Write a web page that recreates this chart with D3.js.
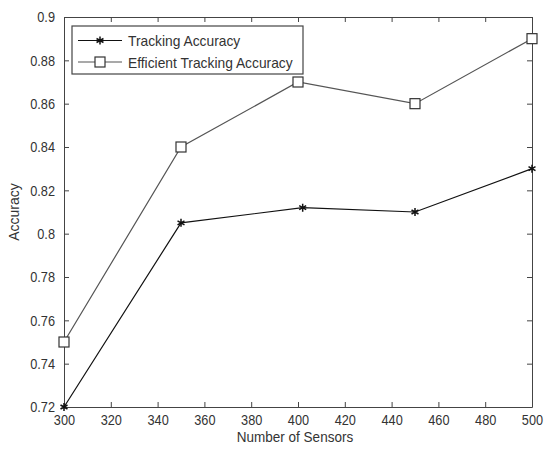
<!DOCTYPE html>
<meta charset="utf-8">
<style>
body { margin: 0; background: #fff; }
text { font-family: "Liberation Sans", Arial, sans-serif; fill: #333; }
.line { fill: none; stroke-width: 1.2px; }
</style>
<svg width="548" height="449"></svg>
<script src="https://d3js.org/d3.v7.min.js"></script>
<script>

var sensorsA = [300, 350, 402, 450, 500];
var tracking = [0.72, 0.805, 0.812, 0.81, 0.83];
var sensorsB = [300, 350, 400, 450, 500];
var efficient = [0.75, 0.84, 0.87, 0.86, 0.89];
var xTicks = [300, 320, 340, 360, 380, 400, 420, 440, 460, 480, 500];
var yTicks = [0.72, 0.74, 0.76, 0.78, 0.8, 0.82, 0.84, 0.86, 0.88, 0.9];
var legendNames = ["Tracking Accuracy", "Efficient Tracking Accuracy"];

var svg = d3.select("svg");
var plotL = 64, plotR = 532, plotT = 17, plotB = 407;

var x = d3.scaleLinear().domain([300, 500]).range([plotL, plotR]);
var y = d3.scaleLinear().domain([0.72, 0.9]).range([plotB, plotT]);

// the original text looks squeezed sideways, so narrow it a bit
function squeeze(sel, k) {
  sel.each(function() {
    var w = this.getComputedTextLength();
    d3.select(this).attr("textLength", w * k).attr("lengthAdjust", "spacingAndGlyphs");
  });
}

function axisStyle(g) {
  g.selectAll("path").attr("stroke", "#444");
  g.selectAll("line").attr("stroke", "#444");
  g.selectAll("text").style("font-size", "15px").attr("fill", "#333");
}
svg.append("g").attr("class", "xa").attr("transform", "translate(0," + plotB + ")")
  .call(d3.axisBottom(x).tickValues(xTicks).tickFormat(d3.format("d")).tickSizeInner(-5).tickSizeOuter(0).tickPadding(7))
  .call(axisStyle);
svg.append("g").attr("transform", "translate(0," + plotT + ")")
  .call(d3.axisTop(x).tickValues(xTicks).tickFormat("").tickSizeInner(-5).tickSizeOuter(0))
  .call(axisStyle);
svg.append("g").attr("class", "ya").attr("transform", "translate(" + plotL + ",0)")
  .call(d3.axisLeft(y).tickValues(yTicks).tickFormat(function(d) { return String(+d.toFixed(2)); }).tickSizeInner(-5).tickSizeOuter(0).tickPadding(9))
  .call(axisStyle);
svg.append("g").attr("transform", "translate(" + plotR + ",0)")
  .call(d3.axisRight(y).tickValues(yTicks).tickFormat("").tickSizeInner(-5).tickSizeOuter(0))
  .call(axisStyle);
squeeze(svg.selectAll(".xa text, .ya text"), 0.85);

var line = d3.line().x(function(d) { return x(d[0]); }).y(function(d) { return y(d[1]); });
var dA = d3.zip(sensorsA, tracking);
var dB = d3.zip(sensorsB, efficient);

svg.append("path").datum(dB).attr("class", "line").attr("stroke", "#555").attr("d", line);
svg.append("path").datum(dA).attr("class", "line").attr("stroke", "#111").attr("d", line);

function drawStar(g, cx, cy) {
  g.append("path").attr("d", d3.symbol().type(d3.symbolAsterisk).size(45)())
    .attr("transform", "translate(" + cx + "," + cy + ")")
    .attr("fill", "none").attr("stroke", "#111").attr("stroke-width", 1.5);
}
function drawSquare(g, cx, cy) {
  g.append("rect").attr("x", cx - 5).attr("y", cy - 5).attr("width", 10).attr("height", 10)
    .attr("fill", "#fff").attr("stroke", "#333").attr("stroke-width", 1.2);
}
dB.forEach(function(d) { drawSquare(svg, x(d[0]), y(d[1])); });
dA.forEach(function(d) { drawStar(svg, x(d[0]), y(d[1])); });

// legend
var lg = svg.append("g");
lg.append("rect").attr("x", 72).attr("y", 26).attr("width", 231).attr("height", 48)
  .attr("fill", "#fff").attr("stroke", "#444").attr("stroke-width", 1.2);
[0, 1].forEach(function(i) {
  var ly = 40.5 + i * 21.5;
  lg.append("line").attr("x1", 78).attr("x2", 122).attr("y1", ly).attr("y2", ly)
    .attr("stroke", i ? "#555" : "#111").attr("stroke-width", 1.2);
  if (i) drawSquare(lg, 100, ly); else drawStar(lg, 100, ly);
  lg.append("text").attr("class", "lt").attr("x", 128).attr("y", ly + 5.5).style("font-size", "15px").text(legendNames[i]);
});
squeeze(lg.selectAll(".lt"), 0.92);

var xl = svg.append("text").attr("x", 295).attr("y", 442).attr("text-anchor", "middle")
  .style("font-size", "15px").text("Number of Sensors");
squeeze(xl, 0.9);
svg.append("text").attr("transform", "translate(19," + 212 + ") rotate(-90)")
  .attr("text-anchor", "middle").style("font-size", "14px").text("Accuracy");

</script>
